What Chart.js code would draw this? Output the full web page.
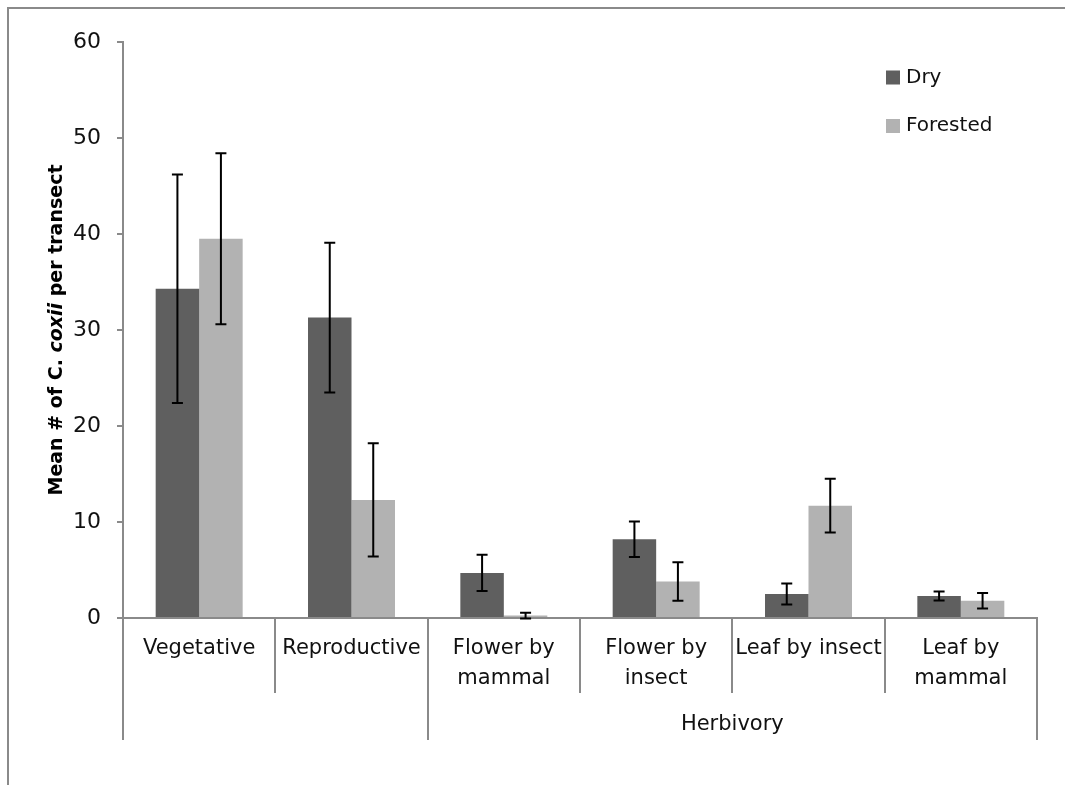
<!DOCTYPE html>
<html>
<head>
<meta charset="utf-8">
<title>C. coxii per transect</title>
<script src="https://cdn.jsdelivr.net/npm/chart.js@4/dist/chart.umd.min.js"></script>
<style>
  html, body { margin: 0; padding: 0; background: #ffffff; }
  canvas { display: block; }
</style>
</head>
<body>
<canvas id="chart" width="1065" height="785"></canvas>
<script>
// Categories (multi-line labels) and the outer grouping row
const categories = ['Vegetative', 'Reproductive', ['Flower by', 'mammal'], ['Flower by', 'insect'], 'Leaf by insect', ['Leaf by', 'mammal']];
const groupNames = ['', 'Herbivory'];
const groupSizes = [2, 4];

// Series: means and error half-widths
const seriesNames = ['Dry', 'Forested'];
const dryMean = [34.3, 31.3, 4.7, 8.2, 2.5, 2.3];
const dryErr = [11.9, 7.8, 1.9, 1.85, 1.1, 0.47];
const forestedMean = [39.5, 12.3, 0.25, 3.8, 11.7, 1.8];
const forestedErr = [8.9, 5.9, 0.3, 2.0, 2.8, 0.8];

// Value axis ticks
const yTicks = [0, 10, 20, 30, 40, 50, 60];

// Axis title pieces: [text, italic]
const yTitleParts = [['Mean # of ', false], ['C. ', false], ['coxii', true], [' per transect', false]];

const FONT = '"DejaVu Sans", sans-serif';
const AXIS_GRAY = '#8a8a8a';
const TEXT = '#111111';
const DARK = '#5f5f5f';
const LIGHT = '#b2b2b2';

// White background plus the outer frame lines
const framePlugin = {
  id: 'frame',
  beforeDraw(chart) {
    const ctx = chart.ctx;
    ctx.save();
    ctx.fillStyle = '#ffffff';
    ctx.fillRect(0, 0, chart.width, chart.height);
    ctx.strokeStyle = AXIS_GRAY;
    ctx.lineWidth = 2;
    ctx.beginPath();
    ctx.moveTo(8, chart.height);
    ctx.lineTo(8, 8);
    ctx.lineTo(chart.width, 8);
    ctx.stroke();
    ctx.restore();
  }
};

// Error bars from each dataset's `errors` array
const errorBarPlugin = {
  id: 'errorBars',
  afterDatasetsDraw(chart) {
    const ctx = chart.ctx;
    const y = chart.scales.y;
    ctx.save();
    ctx.strokeStyle = '#000000';
    ctx.lineWidth = 2;
    chart.data.datasets.forEach((ds, di) => {
      const meta = chart.getDatasetMeta(di);
      meta.data.forEach((bar, i) => {
        const v = ds.data[i];
        const e = ds.errors[i];
        const top = y.getPixelForValue(v + e);
        const bot = y.getPixelForValue(v - e);
        const cap = 5.5;
        ctx.beginPath();
        ctx.moveTo(bar.x, top);
        ctx.lineTo(bar.x, bot);
        ctx.moveTo(bar.x - cap, top);
        ctx.lineTo(bar.x + cap, top);
        ctx.moveTo(bar.x - cap, bot);
        ctx.lineTo(bar.x + cap, bot);
        ctx.stroke();
      });
    });
    ctx.restore();
  }
};

// Category dividers and the grouping row under the x axis
const categoryFramePlugin = {
  id: 'categoryFrame',
  afterDraw(chart) {
    const ctx = chart.ctx;
    const x = chart.scales.x;
    const base = x.top;
    const n = categories.length;
    const groupEdges = new Set([0]);
    let acc = 0;
    groupSizes.forEach(s => { acc += s; groupEdges.add(acc); });

    ctx.save();
    ctx.strokeStyle = AXIS_GRAY;
    ctx.lineWidth = 2;
    for (let i = 0; i <= n; i++) {
      const px = Math.round(x.getPixelForValue(i - 0.5));
      const end = groupEdges.has(i) ? base + 122 : base + 75;
      ctx.beginPath();
      ctx.moveTo(px, base);
      ctx.lineTo(px, end);
      ctx.stroke();
    }

    ctx.fillStyle = TEXT;
    ctx.font = '21px ' + FONT;
    ctx.textAlign = 'center';
    ctx.textBaseline = 'middle';
    acc = 0;
    groupNames.forEach((g, gi) => {
      const a = x.getPixelForValue(acc - 0.5);
      const b = x.getPixelForValue(acc + groupSizes[gi] - 0.5);
      acc += groupSizes[gi];
      if (g) ctx.fillText(g, (a + b) / 2, base + 107);
    });
    ctx.restore();
  }
};

// Legend in the upper right of the plot
const legendPlugin = {
  id: 'cornerLegend',
  afterDraw(chart) {
    const ctx = chart.ctx;
    const area = chart.chartArea;
    ctx.save();
    ctx.font = '20px ' + FONT;
    ctx.textAlign = 'left';
    ctx.textBaseline = 'middle';
    chart.data.datasets.forEach((ds, i) => {
      const cy = area.top + 35.5 + i * 48.5;
      const sx = area.right - 151;
      ctx.fillStyle = ds.backgroundColor;
      ctx.fillRect(sx, cy - 7, 14, 14);
      ctx.fillStyle = TEXT;
      ctx.fillText(ds.label, sx + 20, cy);
    });
    ctx.restore();
  }
};

// Rotated y axis title with an italic species name
const yTitlePlugin = {
  id: 'yTitle',
  afterDraw(chart) {
    const ctx = chart.ctx;
    const area = chart.chartArea;
    const fontFor = it => (it ? 'italic ' : '') + 'bold 19px ' + FONT;
    ctx.save();
    let total = 0;
    const widths = yTitleParts.map(([t, it]) => { ctx.font = fontFor(it); const w = ctx.measureText(t).width; total += w; return w; });
    ctx.translate(57, (area.top + area.bottom) / 2);
    ctx.rotate(-Math.PI / 2);
    ctx.fillStyle = '#000000';
    ctx.textAlign = 'left';
    ctx.textBaseline = 'middle';
    let cx = -total / 2;
    yTitleParts.forEach(([t, it], i) => {
      ctx.font = fontFor(it);
      ctx.fillText(t, cx, 0);
      cx += widths[i];
    });
    ctx.restore();
  }
};

new Chart(document.getElementById('chart'), {
  type: 'bar',
  data: {
    labels: categories,
    datasets: [
      { label: seriesNames[0], data: dryMean, errors: dryErr, backgroundColor: DARK, borderWidth: 0, barPercentage: 1, categoryPercentage: 0.571 },
      { label: seriesNames[1], data: forestedMean, errors: forestedErr, backgroundColor: LIGHT, borderWidth: 0, barPercentage: 1, categoryPercentage: 0.571 }
    ]
  },
  options: {
    responsive: false,
    animation: false,
    layout: { padding: { top: 42, right: 28, left: 0, bottom: 0 } },
    plugins: { legend: { display: false }, tooltip: { enabled: false } },
    scales: {
      x: {
        grid: { display: false },
        border: { color: AXIS_GRAY, width: 2 },
        ticks: { font: { family: FONT, size: 21, lineHeight: 1.43 }, color: TEXT, padding: 8, maxRotation: 0, minRotation: 0, autoSkip: false },
        afterFit(s) { s.height = 167; }
      },
      y: {
        min: 0,
        max: 60,
        afterBuildTicks(s) { s.ticks = yTicks.map(v => ({ value: v })); },
        ticks: { font: { family: FONT, size: 22 }, color: TEXT, padding: 16 },
        grid: { drawOnChartArea: false, tickLength: 6, color: AXIS_GRAY, lineWidth: 2 },
        border: { color: AXIS_GRAY, width: 2 },
        afterFit(s) { s.width = 123; }
      }
    }
  },
  plugins: [framePlugin, errorBarPlugin, categoryFramePlugin, legendPlugin, yTitlePlugin]
});
</script>
</body>
</html>
